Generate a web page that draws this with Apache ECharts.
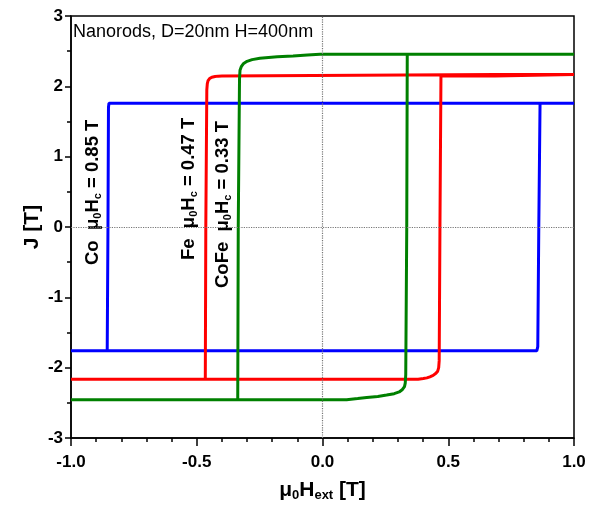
<!DOCTYPE html>
<html>
<head>
<meta charset="utf-8">
<script src="https://cdn.jsdelivr.net/npm/echarts@6/dist/echarts.min.js"></script>
<style>
  html, body { margin: 0; padding: 0; background: #fff; }
  #chart { width: 590px; height: 508px; }
</style>
</head>
<body>
<div id="chart"></div>
<script>
// hysteresis loops (x = mu0*Hext [T], y = J [T])
// Co
const coX = [1.0, -0.849, -0.851, -0.853, -0.856, -1.0, 0.852, 0.856, 0.860, 0.865, 1.0]
const coY = [1.76, 1.76, 1.70, 0.0, -1.76, -1.76, -1.76, -1.70, 0.0, 1.76, 1.76]
// Fe
const feX = [1.0, 0.686, 0.686, -0.40, -0.415, -0.427, -0.44, -0.449, -0.455, -0.458, -0.460, -0.464, -0.466, -1.0,
  0.38, 0.401, 0.415, 0.427, 0.44, 0.451, 0.458, 0.462, 0.464, 0.467, 0.471, 0.686, 0.686, 1.0]
const feY = [2.17, 2.17, 2.147, 2.147, 2.145, 2.14, 2.13, 2.11, 2.08, 2.04, 1.95, 0.0, -2.165, -2.165,
  -2.165, -2.155, -2.145, -2.13, -2.11, -2.08, -2.05, -2.0, -1.9, 0.0, 2.147, 2.147, 2.17, 2.17]
// CoFe
const cofeX = [1.0, -0.01, -0.06, -0.117, -0.18, -0.249, -0.28, -0.30, -0.315, -0.323, -0.328, -0.330, -0.335, -0.337, -1.0,
  0.096, 0.14, 0.176, 0.22, 0.255, 0.285, 0.305, 0.318, 0.326, 0.329, 0.331, 0.335, 0.337, 1.0]
const cofeY = [2.455, 2.455, 2.445, 2.432, 2.42, 2.40, 2.38, 2.355, 2.32, 2.28, 2.23, 2.10, 0.0, -2.455, -2.455,
  -2.455, -2.44, -2.425, -2.41, -2.39, -2.37, -2.345, -2.31, -2.27, -2.22, -2.10, 0.0, 2.455, 2.455]

const xTicks = [-1.0, -0.5, 0.0, 0.5, 1.0]
const yTicks = [-3, -2, -1, 0, 1, 2, 3]

const zip = (xs, ys) => xs.map((x, i) => [x, ys[i]])

const font = 'Arial, "Liberation Sans", sans-serif'
const sub = {fontFamily: font, fontSize: 11, fontWeight: 'bold', verticalAlign: 'bottom', lineHeight: 11}

const chart = echarts.init(document.getElementById('chart'))

const loop = (name, data, color) => ({
  name: name,
  type: 'line',
  data: data,
  showSymbol: false,
  symbol: 'none',
  animation: false,
  lineStyle: {color: color, width: 3},
  itemStyle: {color: color}
})

// rotated labels, anchored at their lower end
const label = (x, y, text) => ({
  type: 'text',
  x: x,
  y: y,
  rotation: Math.PI / 2,
  style: {
    text: text,
    align: 'left',
    verticalAlign: 'middle',
    fontFamily: font,
    fontSize: 18.5,
    fontWeight: 'bold',
    lineHeight: 21,
    fill: '#000',
    rich: {s: sub}
  }
})

chart.setOption({
  animation: false,
  grid: {
    left: 71,
    right: 16,
    top: 16,
    bottom: 70,
    outerBoundsMode: 'none',
    show: true,
    borderColor: '#000',
    borderWidth: 1.5
  },
  xAxis: {
    type: 'value',
    min: -1,
    max: 1,
    interval: 0.5,
    name: 'μ{s|0}H{s|ext} [T]',
    nameLocation: 'middle',
    nameGap: 40,
    nameTextStyle: {
      fontFamily: font, fontSize: 21, fontWeight: 'bold', color: '#000', lineHeight: 24,
      rich: {s: {fontFamily: font, fontSize: 13, fontWeight: 'bold', verticalAlign: 'bottom', lineHeight: 13}}
    },
    axisLine: {onZero: false, lineStyle: {color: '#000', width: 1.5}},
    axisTick: {length: 8, lineStyle: {color: '#000', width: 1.5}},
    minorTick: {show: true, splitNumber: 5, length: 4, lineStyle: {color: '#000', width: 1.5}},
    splitLine: {show: false},
    axisLabel: {
      margin: 16,
      fontFamily: font, fontSize: 17, fontWeight: 'bold', color: '#000',
      formatter: v => xTicks.includes(v) ? v.toFixed(1) : ''
    }
  },
  yAxis: {
    type: 'value',
    min: -3,
    max: 3,
    interval: 1,
    name: 'J [T]',
    nameLocation: 'middle',
    nameGap: 28,
    nameMoveOverlap: false,
    nameTextStyle: {fontFamily: font, fontSize: 21, fontWeight: 'bold', color: '#000'},
    axisLine: {onZero: false, lineStyle: {color: '#000', width: 1.5}},
    axisTick: {length: 6, lineStyle: {color: '#000', width: 1.5}},
    minorTick: {show: true, splitNumber: 2, length: 4, lineStyle: {color: '#000', width: 1.5}},
    splitLine: {show: false},
    axisLabel: {
      margin: 8,
      fontFamily: font, fontSize: 17, fontWeight: 'bold', color: '#000',
      formatter: v => yTicks.includes(v) ? String(v) : ''
    }
  },
  series: [
    Object.assign(loop('Co', zip(coX, coY), '#0000ff'), {
      markLine: {
        silent: true,
        symbol: 'none',
        label: {show: false},
        lineStyle: {color: '#777', type: 'dotted', width: 1.2},
        data: [{xAxis: 0}, {yAxis: 0}]
      }
    }),
    loop('Fe', zip(feX, feY), '#ff0000'),
    loop('CoFe', zip(cofeX, cofeY), '#008000')
  ],
  graphic: [
    {
      type: 'text',
      x: 73,
      y: 32,
      style: {
        text: 'Nanorods, D=20nm H=400nm',
        verticalAlign: 'middle',
        fontFamily: font,
        fontSize: 18,
        fill: '#000'
      }
    },
    label(93, 265, 'Co  μ{s|0}H{s|c} = 0.85 T'),
    label(189, 260, 'Fe  μ{s|0}H{s|c} = 0.47 T'),
    label(223, 288, 'CoFe  μ{s|0}H{s|c} = 0.33 T')
  ]
})
</script>
</body>
</html>
